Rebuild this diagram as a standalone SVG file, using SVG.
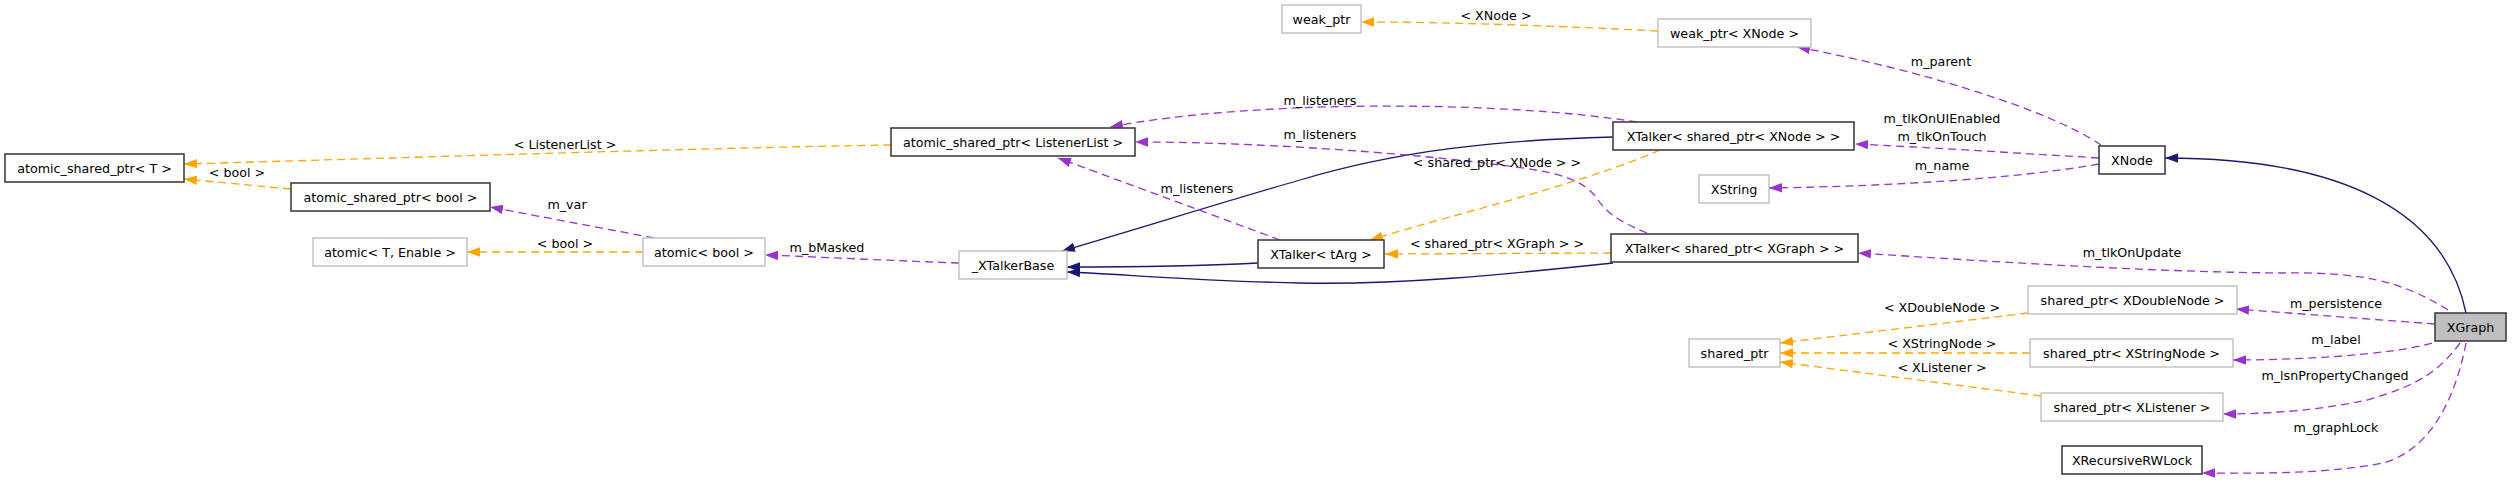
<svg xmlns="http://www.w3.org/2000/svg" width="2512" height="480" viewBox="0 0 2512 480">
<defs>
<style>
text{font-family:"DejaVu Sans","Liberation Sans",sans-serif;font-size:12.7px;fill:#000;text-anchor:middle}
.n rect{fill:#fff;stroke:#404040;stroke-width:1.6}
.g rect{fill:#fff;stroke:#bfbfbf;stroke-width:1.4}
.cur rect{fill:#bfbfbf;stroke:#404040;stroke-width:1.6}
.e{fill:none;stroke-width:1.3}
.inh{stroke:#191970;marker-end:url(#aN)}
.use{stroke:#9a32cd;stroke-dasharray:8,5;marker-end:url(#aP)}
.tpl{stroke:#ffa500;stroke-dasharray:8,5;marker-end:url(#aO)}
</style>
<marker id="aN" markerUnits="userSpaceOnUse" markerWidth="14" markerHeight="10" refX="13" refY="4.7" orient="auto"><path d="M0,0 L13,4.7 L0,9.4 z" fill="#191970"/></marker>
<marker id="aP" markerUnits="userSpaceOnUse" markerWidth="14" markerHeight="10" refX="13" refY="4.7" orient="auto"><path d="M0,0 L13,4.7 L0,9.4 z" fill="#9a32cd"/></marker>
<marker id="aO" markerUnits="userSpaceOnUse" markerWidth="14" markerHeight="10" refX="13" refY="4.7" orient="auto"><path d="M0,0 L13,4.7 L0,9.4 z" fill="#ffa500"/></marker>
</defs>
<rect width="2512" height="480" fill="#fff"/>
<g id="edges">
<path class="e inh" d="M2466,313 C2445,210 2340,158 2165,158"/>
<path class="e use" d="M2099,158 C2000,152 1920,147 1855,144"/>
<path class="e use" d="M2099,164 C2020,178 1900,186 1769,188"/>
<path class="e use" d="M2101,145 C2050,110 1920,70 1797,47"/>
<path class="e tpl" d="M1658,31 C1560,26 1450,22 1361,22"/>
<path class="e use" d="M1637,122 C1500,100 1250,100 1110,127"/>
<path class="e inh" d="M1613,137 C1500,140 1400,150 1300,180 C1230,200 1150,225 1062,251"/>
<path class="e inh" d="M1258,263 C1200,266 1130,267 1067,267"/>
<path class="e inh" d="M1613,263 C1500,275 1400,285 1300,283 C1200,281 1120,274 1067,272"/>
<path class="e use" d="M1280,240 L1058,158"/>
<path class="e use" d="M1647,233 C1615,220 1605,210 1598,200 C1585,180 1560,172 1500,165 C1400,152 1250,142 1135,142"/>
<path class="e tpl" d="M1660,150 C1580,185 1450,215 1370,240"/>
<path class="e tpl" d="M1611,253 L1385,254"/>
<path class="e use" d="M2448,310 C2400,280 2360,272 2283,273 C2150,272 2000,262 1858,253"/>
<path class="e use" d="M2435,324 L2236,309"/>
<path class="e use" d="M2432,343 C2390,355 2300,360 2233,360"/>
<path class="e use" d="M2460,343 C2440,370 2420,385 2367,400 C2320,410 2270,414 2223,414"/>
<path class="e use" d="M2466,343 C2455,400 2430,450 2383,463 C2320,475 2250,473 2202,473"/>
<path class="e tpl" d="M2028,313 L1780,343"/>
<path class="e tpl" d="M2030,353 L1780,353"/>
<path class="e tpl" d="M2041,396 L1780,362"/>
<path class="e tpl" d="M891,145 C700,148 400,158 184,164"/>
<path class="e tpl" d="M291,189 L184,179"/>
<path class="e use" d="M654,238 L490,207"/>
<path class="e tpl" d="M643,252 L467,252"/>
<path class="e use" d="M959,263 C900,261 820,257 765,255"/>
<text x="565" y="148.5">&lt; ListenerList &gt;</text>
<text x="237" y="176.5">&lt; bool &gt;</text>
<text x="567" y="208.5">m_var</text>
<text x="565" y="247.5">&lt; bool &gt;</text>
<text x="827" y="251.5">m_bMasked</text>
<text x="1496" y="19.5">&lt; XNode &gt;</text>
<text x="1320" y="104.5">m_listeners</text>
<text x="1320" y="138.5">m_listeners</text>
<text x="1197" y="192.5">m_listeners</text>
<text x="1497" y="166.5">&lt; shared_ptr&lt; XNode &gt; &gt;</text>
<text x="1497" y="247.5">&lt; shared_ptr&lt; XGraph &gt; &gt;</text>
<text x="1941" y="65.5">m_parent</text>
<text x="1942" y="122.5">m_tlkOnUIEnabled</text>
<text x="1942" y="140.5">m_tlkOnTouch</text>
<text x="1942" y="169.5">m_name</text>
<text x="2132" y="256.5">m_tlkOnUpdate</text>
<text x="2336" y="307.5">m_persistence</text>
<text x="2336" y="343.5">m_label</text>
<text x="2335" y="379.5">m_lsnPropertyChanged</text>
<text x="2336" y="431.5">m_graphLock</text>
<text x="1942" y="311.5">&lt; XDoubleNode &gt;</text>
<text x="1942" y="347.5">&lt; XStringNode &gt;</text>
<text x="1942" y="371.5">&lt; XListener &gt;</text>
</g>
<g id="XGraph" class="cur"><rect x="2435" y="313" width="71" height="28"/><text x="2470.5" y="331.5">XGraph</text></g>
<g id="XNode" class="n"><rect x="2099" y="146" width="66" height="28"/><text x="2132" y="164.5">XNode</text></g>
<g id="XTalkerXNode" class="n"><rect x="1613" y="122" width="241" height="28"/><text x="1733.5" y="140.5">XTalker&lt; shared_ptr&lt; XNode &gt; &gt;</text></g>
<g id="XTalkerBase" class="g"><rect x="959" y="251" width="108" height="28"/><text x="1013" y="269.5">_XTalkerBase</text></g>
<g id="atomicSharedPtrListenerList" class="n"><rect x="891" y="128" width="244" height="28"/><text x="1013" y="146.5">atomic_shared_ptr&lt; ListenerList &gt;</text></g>
<g id="atomicSharedPtrT" class="n"><rect x="5" y="154" width="179" height="28"/><text x="94.5" y="172.5">atomic_shared_ptr&lt; T &gt;</text></g>
<g id="atomicSharedPtrBool" class="n"><rect x="291" y="183" width="199" height="28"/><text x="390.5" y="201.5">atomic_shared_ptr&lt; bool &gt;</text></g>
<g id="atomicBool" class="g"><rect x="643" y="238" width="122" height="28"/><text x="704" y="256.5">atomic&lt; bool &gt;</text></g>
<g id="atomicTEnable" class="g"><rect x="313" y="238" width="154" height="28"/><text x="390" y="256.5">atomic&lt; T, Enable &gt;</text></g>
<g id="XTalkerTArg" class="n"><rect x="1258" y="240" width="126" height="28"/><text x="1321" y="258.5">XTalker&lt; tArg &gt;</text></g>
<g id="XTalkerXGraph" class="n"><rect x="1611" y="234" width="247" height="28"/><text x="1734.5" y="252.5">XTalker&lt; shared_ptr&lt; XGraph &gt; &gt;</text></g>
<g id="XString" class="g"><rect x="1699" y="175" width="70" height="28"/><text x="1734" y="193.5">XString</text></g>
<g id="weakPtrXNode" class="g"><rect x="1658" y="19" width="153" height="28"/><text x="1734.5" y="37.5">weak_ptr&lt; XNode &gt;</text></g>
<g id="weakPtr" class="g"><rect x="1282" y="5" width="79" height="28"/><text x="1321.5" y="23.5">weak_ptr</text></g>
<g id="sharedPtrXDoubleNode" class="g"><rect x="2028" y="286" width="209" height="28"/><text x="2132.5" y="304.5">shared_ptr&lt; XDoubleNode &gt;</text></g>
<g id="sharedPtr" class="g"><rect x="1689" y="339" width="91" height="28"/><text x="1734.5" y="357.5">shared_ptr</text></g>
<g id="sharedPtrXStringNode" class="g"><rect x="2030" y="339" width="203" height="28"/><text x="2131.5" y="357.5">shared_ptr&lt; XStringNode &gt;</text></g>
<g id="sharedPtrXListener" class="g"><rect x="2041" y="393" width="182" height="28"/><text x="2132" y="411.5">shared_ptr&lt; XListener &gt;</text></g>
<g id="XRecursiveRWLock" class="n"><rect x="2062" y="446" width="140" height="28"/><text x="2132" y="464.5">XRecursiveRWLock</text></g>
</svg>
